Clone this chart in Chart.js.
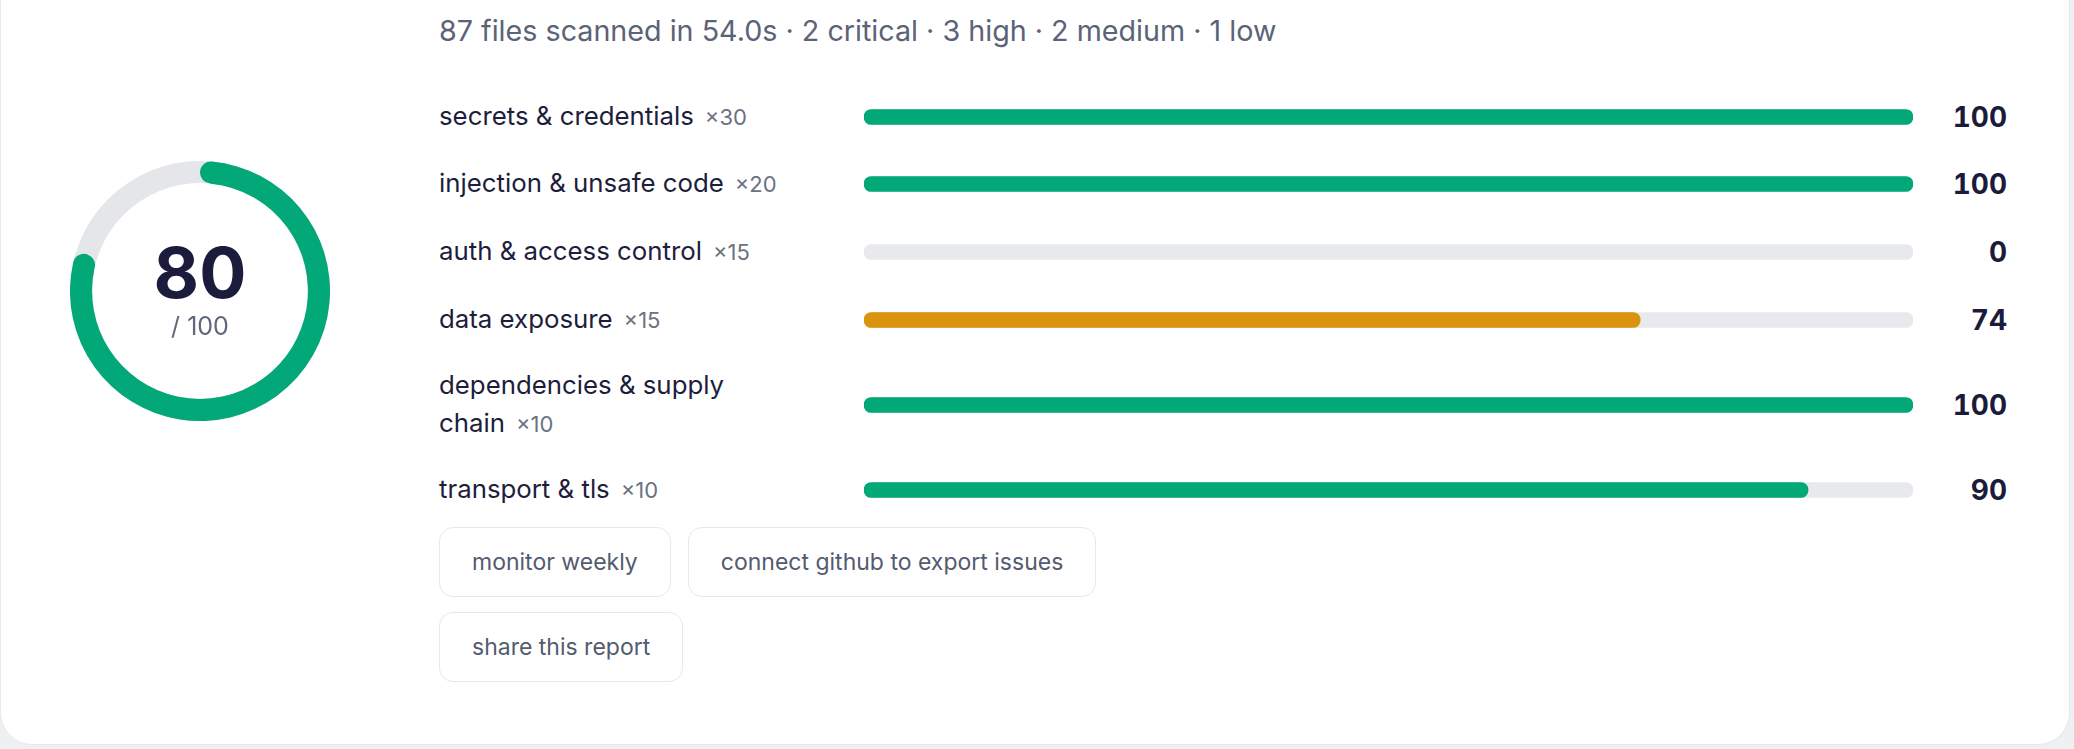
<!DOCTYPE html>
<html>
<head>
<meta charset="utf-8">
<script src="https://cdn.jsdelivr.net/npm/chart.js@4.4.1/dist/chart.umd.min.js"></script>
<style>
  html, body { margin: 0; padding: 0; }
  body { width: 2074px; height: 749px; background: #eef0f3; overflow: hidden; font-family: Inter, "Noto Sans", sans-serif; position: relative; }
  .card { position: absolute; left: 0; top: -40px; width: 2070px; height: 785px; background: #fff; border: 1px solid #e6e8eb; border-radius: 32px; box-sizing: border-box; }
  .donut { position: absolute; left: 70px; top: 161px; width: 260px; height: 260px; }
  .big { position: absolute; left: 70px; width: 260px; top: 235px; text-align: center; font-size: 70px; font-weight: 700; color: #1b1b3c; line-height: 76px; }
  .small { position: absolute; left: 70px; width: 260px; top: 312px; text-align: center; font-size: 25px; color: #5f677a; line-height: 28px; }
  .header { position: absolute; left: 439px; top: 12px; font-size: 28.7px; line-height: 38px; color: #5b6377; white-space: nowrap; }
  .rows { position: absolute; left: 439px; top: 95px; width: 1568px; display: flex; flex-direction: column; gap: 24.7px; }
  .row { display: flex; align-items: center; min-height: 43px; }
  .label { width: 425px; flex: none; }
  .label span.t { display: inline-block; max-width: 345px; font-size: 25.8px; line-height: 38.7px; color: #1d1e3c; }
  .label .w { font-size: 22px; color: #6b7280; margin-left: 11px; white-space: nowrap; }
  .bar { width: 1049px; height: 30px; flex: none; position: relative; }
  .val { flex: 1; text-align: right; font-size: 28px; font-weight: 700; color: #1b1b3c; font-variant-numeric: tabular-nums; }
  .buttons { position: absolute; left: 439px; top: 527px; width: 720px; display: flex; flex-wrap: wrap; gap: 15px 17px; }
  .btn { height: 70px; box-sizing: border-box; padding: 0 32px; border: 1px solid #e6e8eb; border-radius: 14px; display: flex; align-items: center; font-size: 23px; color: #535b6f; background: #fff; }
</style>
</head>
<body>
<div class="card"></div>
<div class="donut"><canvas id="donut"></canvas></div>
<div class="big" id="scoreText"></div>
<div class="small" id="scoreMax"></div>
<div class="header" id="header"></div>
<div class="rows" id="rows"></div>
<div class="buttons" id="buttons"></div>

<script>
// overall score
var overallScore = 80;
var overallMax = 100;
var summary = "87 files scanned in 54.0s · 2 critical · 3 high · 2 medium · 1 low";

// categories and their scores
var categories = ["secrets & credentials", "injection & unsafe code", "auth & access control", "data exposure", "dependencies & supply chain", "transport & tls"];
var weights = [30, 20, 15, 15, 10, 10];
var scores = [100, 100, 0, 74, 100, 90];
var actions = ["monitor weekly", "connect github to export issues", "share this report"];

var green = '#02a878';
var amber = '#d9930c';
var track = '#e8e9ec';

function barColor(v) {
  if (v <= 0) return 'rgba(0,0,0,0)';
  return v >= 80 ? green : amber;
}

document.getElementById('header').textContent = summary;
document.getElementById('scoreText').textContent = overallScore;
document.getElementById('scoreMax').textContent = '/ ' + overallMax;

// gray ring behind the score arc
var ringTrack = {
  id: 'ringTrack',
  beforeDatasetsDraw: function(chart) {
    var arc = chart.getDatasetMeta(0).data[0];
    if (!arc) return;
    var c = chart.ctx;
    c.save();
    c.beginPath();
    c.arc(arc.x, arc.y, (arc.outerRadius + arc.innerRadius) / 2, 0, Math.PI * 2);
    c.lineWidth = arc.outerRadius - arc.innerRadius;
    c.strokeStyle = '#e4e6ea';
    c.stroke();
    c.restore();
  }
};

new Chart(document.getElementById('donut'), {
  type: 'doughnut',
  data: {
    labels: ['score', 'rest'],
    datasets: [{
      data: [overallScore, overallMax - overallScore],
      backgroundColor: [green, 'rgba(0,0,0,0)'],
      borderWidth: 0,
      borderRadius: 11
    }]
  },
  options: {
    responsive: true,
    maintainAspectRatio: false,
    animation: false,
    cutout: '83%',
    plugins: { legend: { display: false }, tooltip: { enabled: false } }
  },
  plugins: [ringTrack]
});

var rowsEl = document.getElementById('rows');
for (var i = 0; i < categories.length; i++) {
  var row = document.createElement('div');
  row.className = 'row';
  row.innerHTML = '<div class="label"><span class="t">' + categories[i].replace(/&/g, '&amp;') +
    '<span class="w">×' + weights[i] + '</span></span></div>' +
    '<div class="bar"><canvas id="bar' + i + '"></canvas></div>' +
    '<div class="val">' + scores[i] + '</div>';
  rowsEl.appendChild(row);

  new Chart(document.getElementById('bar' + i), {
    type: 'bar',
    data: {
      labels: [categories[i]],
      datasets: [
        { data: [scores[i]], backgroundColor: barColor(scores[i]), order: 1 },
        { data: [overallMax], backgroundColor: track, order: 2 }
      ]
    },
    options: {
      indexAxis: 'y',
      responsive: true,
      maintainAspectRatio: false,
      animation: false,
      datasets: { bar: { grouped: false, barThickness: 15, borderSkipped: false, borderRadius: 8 } },
      layout: { padding: 0 },
      scales: {
        x: { min: 0, max: 100, display: false },
        y: { display: false }
      },
      plugins: { legend: { display: false }, tooltip: { enabled: false } }
    }
  });
}

var btnEl = document.getElementById('buttons');
actions.forEach(function(a) {
  var b = document.createElement('div');
  b.className = 'btn';
  b.textContent = a;
  btnEl.appendChild(b);
});
</script>
</body>
</html>
